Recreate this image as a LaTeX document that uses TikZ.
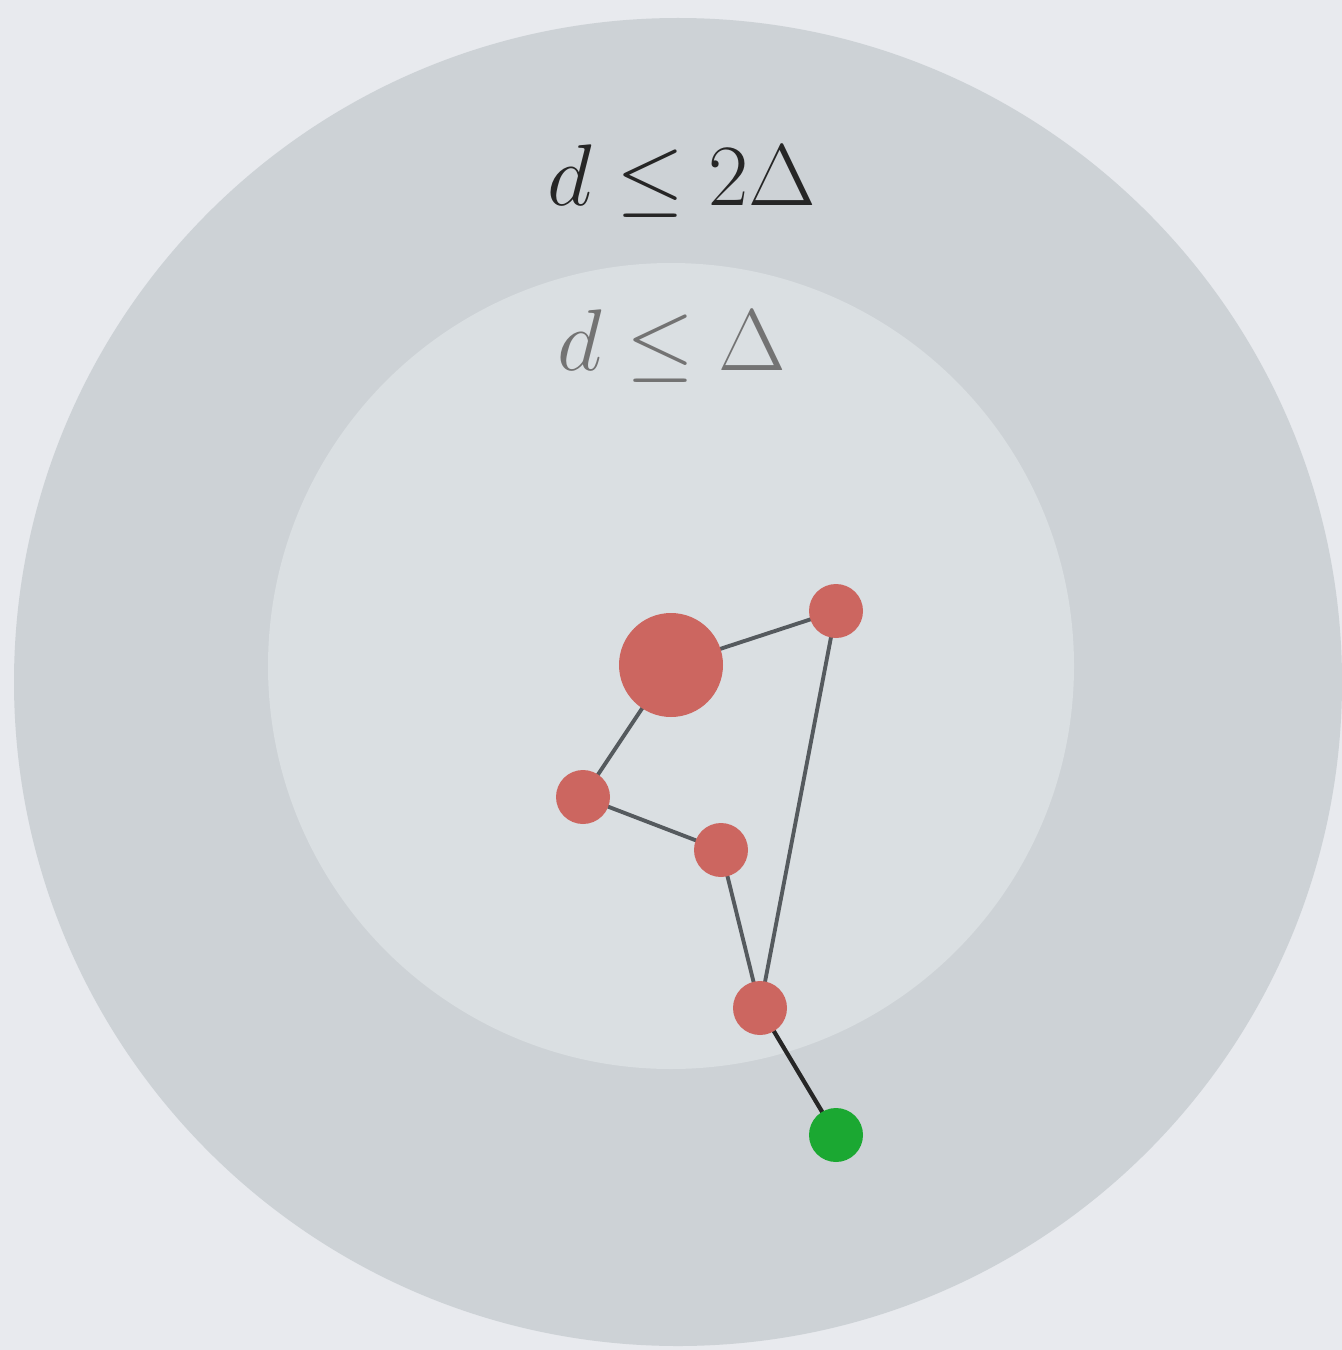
\documentclass[tikz,border=0pt]{standalone}
\usepackage{amsmath}
\definecolor{bgc}{HTML}{E8EAEE}
\definecolor{outerc}{HTML}{CDD2D6}
\definecolor{innerc}{HTML}{DADFE2}
\definecolor{redc}{HTML}{CC6660}
\definecolor{greenc}{HTML}{1BA832}
\definecolor{edgec}{HTML}{555A5E}
\tikzset{
  vert/.style={circle, fill=redc, inner sep=0pt, minimum size=5.4mm},
  bigvert/.style={circle, fill=redc, inner sep=0pt, minimum size=10.4mm},
  goal/.style={circle, fill=greenc, inner sep=0pt, minimum size=5.4mm},
  edge/.style={draw=edgec, line width=1.1pt},
  lbl/.style={font=\fontsize{24}{29}\selectfont, anchor=base},
}
\begin{document}
\begin{tikzpicture}[x=0.1mm, y=-0.1mm]
\useasboundingbox (0,0) rectangle (1342,1350);
\begin{scope}
\clip (0,0) rectangle (1342,1350);
\fill[bgc] (0,0) rectangle (1342,1350);
\fill[outerc] (678,682) circle[radius=664];
\fill[innerc] (671,666) circle[radius=403];
\end{scope}
\node[lbl, text=black!85] (t2) at (682,206) {$d \leq 2\Delta$};
\node[lbl, text=black!55] (t1) at (672,370) {$d \leq \Delta$};
\coordinate (pa) at (671,665);
\coordinate (pb) at (836,611);
\coordinate (pc) at (583,797);
\coordinate (pd) at (721,850);
\coordinate (pe) at (760,1008);
\coordinate (pf) at (836,1135);
\draw[edge] (pa) -- (pb);
\draw[edge] (pa) -- (pc);
\draw[edge] (pc) -- (pd);
\draw[edge] (pd) -- (pe);
\draw[edge] (pb) -- (pe);
\draw[line width=1.2pt, draw=black!85] (pe) -- (pf);
\node[bigvert] (a) at (pa) {};
\node[vert] (b) at (pb) {};
\node[vert] (c) at (pc) {};
\node[vert] (d) at (pd) {};
\node[vert] (e) at (pe) {};
\node[goal] (f) at (pf) {};
\end{tikzpicture}
\end{document}
